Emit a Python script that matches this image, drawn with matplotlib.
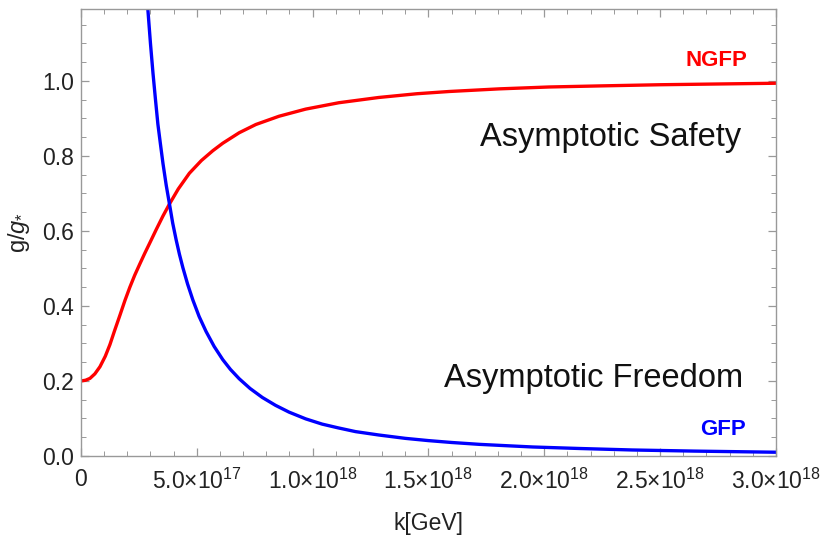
import matplotlib
matplotlib.use("Agg")
import matplotlib.pyplot as plt
from matplotlib.ticker import MultipleLocator

plt.rcParams['font.family'] = ['Liberation Sans', 'DejaVu Sans']
plt.rcParams['mathtext.fontset'] = 'custom'
plt.rcParams['mathtext.rm'] = 'Liberation Sans'
plt.rcParams['mathtext.it'] = 'Liberation Sans:italic'

# k in units of 1e17 GeV
k_ngfp = [0.0, 0.2, 0.39, 0.6, 0.82, 1.05, 1.25, 1.45, 1.68, 1.9, 2.11, 2.32,
          2.54, 2.75, 2.97, 3.25, 3.54, 3.82, 4.2, 4.68, 5.2, 5.69, 6.12, 6.83,
          7.55, 8.55, 9.7, 11.13, 12.85, 14.5, 15.9, 18.06, 20.2, 22.5, 25.0,
          27.5, 30.0]
g_ngfp = [0.200, 0.202, 0.207, 0.219, 0.238, 0.266, 0.297, 0.334, 0.375, 0.415,
          0.450, 0.482, 0.512, 0.540, 0.568, 0.604, 0.640, 0.672, 0.712, 0.754,
          0.788, 0.814, 0.834, 0.862, 0.884, 0.906, 0.925, 0.942, 0.956, 0.966,
          0.972, 0.979, 0.984, 0.987, 0.990, 0.992, 0.994]

k_gfp = [2.89, 3.0, 3.11, 3.22, 3.32, 3.43, 3.54, 3.68, 3.82, 3.96, 4.11, 4.25,
         4.4, 4.6, 4.83, 5.1, 5.4, 5.75, 6.12, 6.45, 6.83, 7.3, 7.83, 8.4, 8.98,
         9.7, 10.41, 11.1, 11.85, 12.85, 14.0, 15.0, 16.0, 17.2, 18.5, 19.5,
         21.5, 23.8, 26.5, 30.0]
g_gfp = [1.189, 1.100, 1.020, 0.948, 0.885, 0.832, 0.780, 0.722, 0.672, 0.621,
         0.576, 0.538, 0.502, 0.459, 0.416, 0.372, 0.332, 0.292, 0.257, 0.231,
         0.206, 0.180, 0.156, 0.135, 0.117, 0.099, 0.085, 0.075, 0.065, 0.056,
         0.047, 0.041, 0.036, 0.031, 0.027, 0.024, 0.020, 0.016, 0.013, 0.010]

x_ticks = [0, 5e17, 1e18, 1.5e18, 2e18, 2.5e18, 3e18]
x_labels = ["0", "5.0×10$^{17}$", "1.0×10$^{18}$", "1.5×10$^{18}$",
            "2.0×10$^{18}$", "2.5×10$^{18}$", "3.0×10$^{18}$"]
y_ticks = [0.0, 0.2, 0.4, 0.6, 0.8, 1.0]

fig = plt.figure(figsize=(8.27, 5.35), dpi=100)
ax = fig.add_axes([0.0979, 0.1477, 0.8404, 0.8355])

ax.plot([k * 1e17 for k in k_ngfp], g_ngfp, color='#ff0000', lw=2.4,
        solid_joinstyle='round')
ax.plot([k * 1e17 for k in k_gfp], g_gfp, color='#0000ff', lw=2.4,
        solid_joinstyle='round')

ax.set_xlim(0, 3e18)
ax.set_ylim(0, 1.192)

ax.set_xticks(x_ticks)
ax.set_xticklabels(x_labels)
ax.set_yticks(y_ticks)
ax.set_yticklabels(["%.1f" % v for v in y_ticks])
ax.xaxis.set_minor_locator(MultipleLocator(1e17))
ax.yaxis.set_minor_locator(MultipleLocator(0.05))

ax.tick_params(which='both', direction='in', top=True, right=True,
               color='#999999', labelsize=16.5, labelcolor='#222222')
ax.tick_params(which='major', length=6, width=0.9)
ax.tick_params(which='minor', length=3.5, width=0.7)
ax.tick_params(axis='x', pad=9)
ax.tick_params(axis='y', pad=5)
for s in ax.spines.values():
    s.set_color('#999999')
    s.set_linewidth(1.0)

ax.set_xlabel("k[GeV]", fontsize=16.5, color='#222222', labelpad=13)
ax.set_ylabel("g/$\\mathit{g}_{*}$", fontsize=17, color='#222222', labelpad=7)

ax.text(2.875e18, 1.04, "NGFP", color='#ff0000', fontsize=16,
        fontweight='bold', ha='right', va='baseline')
ax.text(2.85e18, 0.827, "Asymptotic Safety", color='#111111', fontsize=23.5,
        ha='right', va='baseline')
ax.text(2.86e18, 0.184, "Asymptotic Freedom", color='#111111', fontsize=23.5,
        ha='right', va='baseline')
ax.text(2.87e18, 0.056, "GFP", color='#0000ff', fontsize=16,
        fontweight='bold', ha='right', va='baseline')

fig.savefig("out.png", dpi=100)
